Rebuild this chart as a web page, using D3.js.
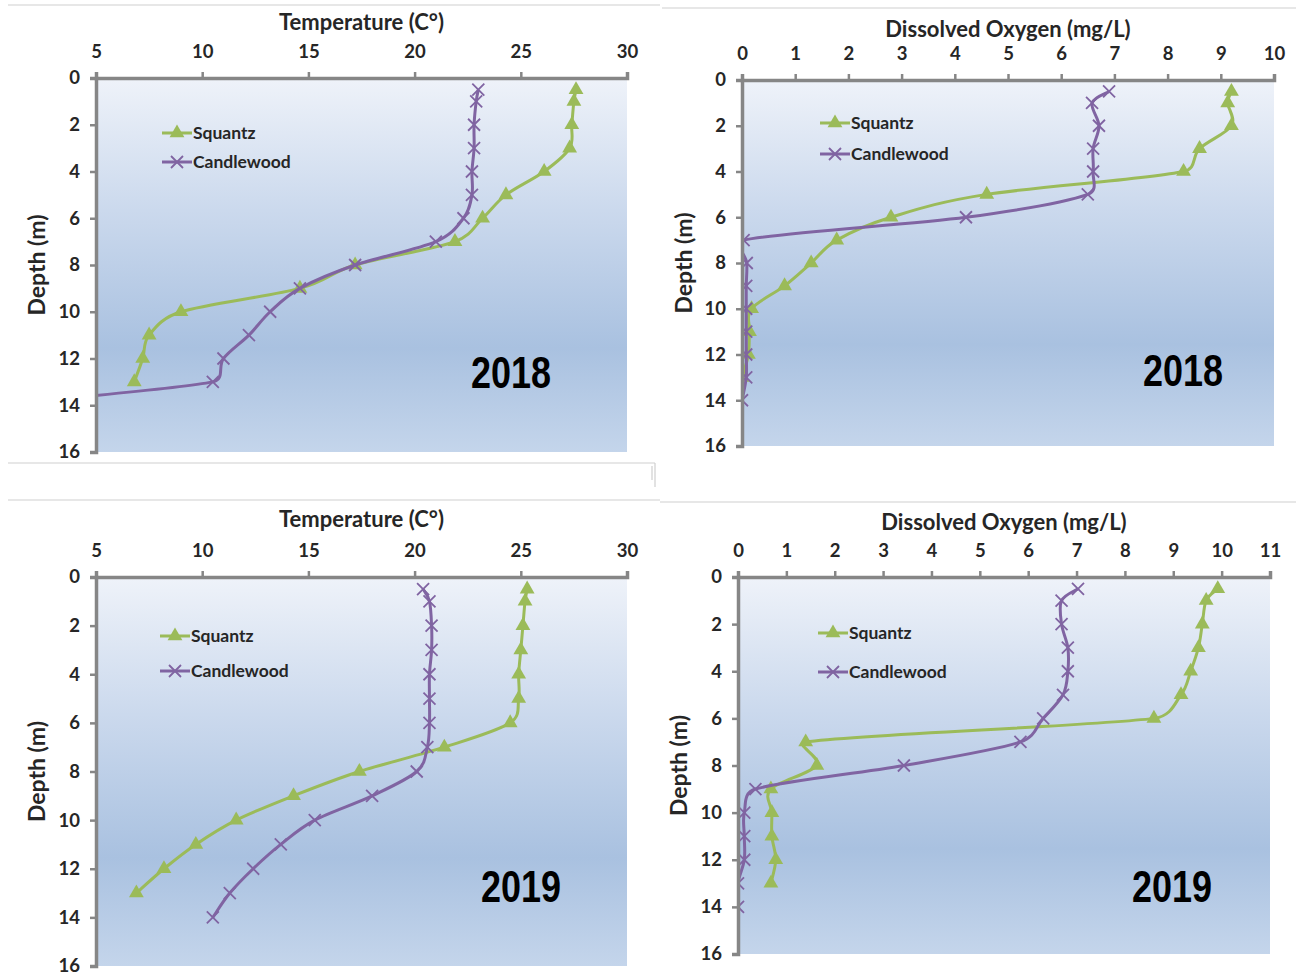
<!DOCTYPE html>
<html>
<head>
<meta charset="utf-8">
<script src="https://cdn.jsdelivr.net/npm/d3@7"></script>
<style>
  body { margin: 0; background: #fff; }
  svg { display: block; }
  .tick text { font-family: Lato, "Open Sans", sans-serif; font-weight: 700; font-size: 18.5px; fill: #262626; }
  .title { font-family: Lato, "Open Sans", sans-serif; font-weight: 700; font-size: 22px; fill: #262626; }
  .depth { font-family: Lato, "Open Sans", sans-serif; font-weight: 700; font-size: 23px; fill: #262626; }
  .legend text { font-family: Lato, "Open Sans", sans-serif; font-weight: 700; font-size: 17.5px; fill: #262626; }
  .year { font-family: "Liberation Sans", Arial, sans-serif; font-weight: 700; font-size: 44px; fill: #000; }
</style>
</head>
<body>
<script>
var w = 1296;
var h = 977;

// depth readings (m)
var depths = [0.5, 1, 2, 3, 4, 5, 6, 7, 8, 9, 10, 11, 12, 13, 14];
var seriesNames = ["Squantz", "Candlewood"];
var tempTicks = [5, 10, 15, 20, 25, 30];
var depthTicks = [0, 2, 4, 6, 8, 10, 12, 14, 16];
var doTicks2018 = [0, 1, 2, 3, 4, 5, 6, 7, 8, 9, 10];
var doTicks2019 = [0, 1, 2, 3, 4, 5, 6, 7, 8, 9, 10, 11];

// 2018 temperature (C)
var temp2018Squantz = [27.6, 27.5, 27.4, 27.3, 26.1, 24.3, 23.2, 21.9, 17.2, 14.6, 9.0, 7.5, 7.2, 6.8];
var temp2018Candlewood = [23.0, 22.9, 22.8, 22.8, 22.7, 22.7, 22.3, 21.0, 17.2, 14.6, 13.2, 12.2, 11.0, 10.5, 0];

// 2018 dissolved oxygen (mg/L)
var do2018Squantz = [9.2, 9.13, 9.2, 8.6, 8.3, 4.6, 2.8, 1.78, 1.3, 0.8, 0.18, 0.14, 0.12, 0.0];
var do2018Candlewood = [6.9, 6.58, 6.71, 6.6, 6.6, 6.5, 4.21, 0.03, 0.09, 0.08, 0.08, 0.08, 0.08, 0.08, 0.0];

// 2019 temperature (C)
var temp2019Squantz = [25.3, 25.2, 25.1, 25.0, 24.9, 24.9, 24.5, 21.4, 17.4, 14.3, 11.6, 9.7, 8.2, 6.9];
var temp2019Candlewood = [20.4, 20.7, 20.8, 20.8, 20.7, 20.7, 20.7, 20.6, 20.1, 18.0, 15.3, 13.7, 12.4, 11.3, 10.5];

// 2019 dissolved oxygen (mg/L)
var do2019Squantz = [9.92, 9.68, 9.6, 9.52, 9.36, 9.16, 8.6, 1.4, 1.63, 0.68, 0.7, 0.7, 0.78, 0.68];
var do2019Candlewood = [7.03, 6.69, 6.69, 6.82, 6.82, 6.72, 6.31, 5.84, 3.43, 0.36, 0.13, 0.13, 0.13, 0.0, 0.0];

var colors = ["#9bbb59", "#8064a2"];

var panels = [
    { id: "p1", title: "Temperature (C\u00b0)", year: "2018", domain: [5, 30], ticks: tempTicks,
      left: 96, right: 627, top: 78, bottom: 452, titleY: 30, yearX: 511, yearY: 388,
      legX: 162, legY: 133, legGap: 29, depthX: 37, data: [temp2018Squantz, temp2018Candlewood] },
    { id: "p2", title: "Dissolved Oxygen (mg/L)", year: "2018", domain: [0, 10], ticks: doTicks2018,
      left: 742, right: 1274, top: 80, bottom: 446, titleY: 37, yearX: 1183, yearY: 386,
      legX: 820, legY: 123, legGap: 31, depthX: 684, data: [do2018Squantz, do2018Candlewood] },
    { id: "p3", title: "Temperature (C\u00b0)", year: "2019", domain: [5, 30], ticks: tempTicks,
      left: 96, right: 627, top: 577, bottom: 966, titleY: 527, yearX: 521, yearY: 902,
      legX: 160, legY: 636, legGap: 35, depthX: 37, data: [temp2019Squantz, temp2019Candlewood] },
    { id: "p4", title: "Dissolved Oxygen (mg/L)", year: "2019", domain: [0, 11], ticks: doTicks2019,
      left: 738, right: 1270, top: 577, bottom: 954, titleY: 530, yearX: 1172, yearY: 902,
      legX: 818, legY: 633, legGap: 39, depthX: 679, data: [do2019Squantz, do2019Candlewood] }
];

var svg = d3.select("body")
            .append("svg")
            .attr("width", w)
            .attr("height", h);

var defs = svg.append("defs");

// plot area gradient, light at the top and deeper blue lower down
var grad = defs.append("linearGradient")
               .attr("id", "bg")
               .attr("x1", 0).attr("y1", 0)
               .attr("x2", 0).attr("y2", 1);
grad.append("stop").attr("offset", "0%").attr("stop-color", "#eef2f9");
grad.append("stop").attr("offset", "35%").attr("stop-color", "#cbd9ed");
grad.append("stop").attr("offset", "72%").attr("stop-color", "#a9c1e0");
grad.append("stop").attr("offset", "100%").attr("stop-color", "#c4d5eb");

// thin chart frame lines left over from the pasted charts
var frames = [
    [8, 5, 660, 5], [8, 463, 655, 463], [655, 463, 655, 487],
    [662, 8, 1296, 8], [652, 466, 652, 480],
    [8, 500, 660, 500], [660, 502, 1296, 502]
];
svg.selectAll("line.frame")
   .data(frames)
   .enter()
   .append("line")
   .attr("class", "frame")
   .attr("x1", function(d) { return d[0]; })
   .attr("y1", function(d) { return d[1]; })
   .attr("x2", function(d) { return d[2]; })
   .attr("y2", function(d) { return d[3]; })
   .attr("stroke", "#cfcfcf")
   .attr("stroke-width", 1.2);

function dist(a, b) {
    return Math.sqrt((b[0] - a[0]) * (b[0] - a[0]) + (b[1] - a[1]) * (b[1] - a[1]));
}

// control point like a spreadsheet "smoothed line": 1/6 of the neighbour chord,
// but never longer than half of the segment itself (stops loops)
function ctrl(p, a, b, seg, sign) {
    var d = dist(a, b);
    var f = 1 / 6;
    if (d === 0) return p;
    if (d * f > seg / 2) f = seg / (2 * d);
    return [p[0] + sign * f * (b[0] - a[0]), p[1] + sign * f * (b[1] - a[1])];
}

function smoothPath(pts) {
    var path = d3.path();
    path.moveTo(pts[0][0], pts[0][1]);
    for (var i = 0; i < pts.length - 1; i++) {
        var p0 = pts[i - 1] || pts[i];
        var p1 = pts[i];
        var p2 = pts[i + 1];
        var p3 = pts[i + 2] || pts[i + 1];
        var seg = dist(p1, p2);
        var c1 = ctrl(p1, p0, p2, seg, 1);
        var c2 = ctrl(p2, p1, p3, seg, -1);
        path.bezierCurveTo(c1[0], c1[1], c2[0], c2[1], p2[0], p2[1]);
    }
    return path.toString();
}

function triangle(g, x, y, color) {
    g.append("path")
     .attr("d", d3.symbol().type(d3.symbolTriangle).size(95)())
     .attr("transform", "translate(" + x + "," + y + ")")
     .attr("fill", color);
}

function cross(g, x, y, color) {
    var s = 6;
    g.append("path")
     .attr("d", "M" + (x - s) + "," + (y - s) + "L" + (x + s) + "," + (y + s) +
                "M" + (x - s) + "," + (y + s) + "L" + (x + s) + "," + (y - s))
     .attr("stroke", color)
     .attr("stroke-width", 1.8)
     .attr("fill", "none");
}

function drawPanel(p) {
    var xscale = d3.scaleLinear()
                   .domain(p.domain)
                   .range([p.left, p.right]);

    var yscale = d3.scaleLinear()
                   .domain([0, 16])
                   .range([p.top, p.bottom]);

    var g = svg.append("g").attr("id", p.id);

    defs.append("clipPath")
        .attr("id", "clip-" + p.id)
        .append("rect")
        .attr("x", p.left)
        .attr("y", p.top)
        .attr("width", p.right - p.left)
        .attr("height", p.bottom - p.top);

    g.append("rect")
     .attr("x", p.left + 1)
     .attr("y", p.top + 2)
     .attr("width", p.right - p.left - 1)
     .attr("height", p.bottom - p.top - 2)
     .attr("fill", "url(#bg)");

    // lines and markers
    var plot = g.append("g").attr("clip-path", "url(#clip-" + p.id + ")");

    p.data.forEach(function(vals, si) {
        var pts = vals.map(function(v, i) { return [xscale(v), yscale(depths[i])]; });

        plot.append("path")
            .attr("d", smoothPath(pts))
            .attr("fill", "none")
            .attr("stroke", colors[si])
            .attr("stroke-width", 3);

        pts.forEach(function(pt) {
            if (si === 0) triangle(plot, pt[0], pt[1], colors[si]);
            else cross(plot, pt[0], pt[1], colors[si]);
        });
    });

    // axes
    var xAxis = d3.axisTop(xscale)
                  .tickValues(p.ticks)
                  .tickSize(6)
                  .tickPadding(14)
                  .tickFormat(d3.format("d"));

    var yAxis = d3.axisLeft(yscale)
                  .tickValues(depthTicks)
                  .tickSize(6)
                  .tickPadding(10)
                  .tickFormat(d3.format("d"));

    var gx = g.append("g")
              .attr("transform", "translate(0," + p.top + ")")
              .call(xAxis);

    var gy = g.append("g")
              .attr("transform", "translate(" + p.left + ",0)")
              .call(yAxis);

    [gx, gy].forEach(function(a) {
        a.select(".domain").attr("stroke", "#868686").attr("stroke-width", 3.5);
        a.selectAll(".tick line").attr("stroke", "#868686").attr("stroke-width", 2.5);
        a.attr("font-family", null).attr("font-size", null);
    });

    // titles
    g.append("text")
     .attr("class", "title")
     .attr("x", (p.left + p.right) / 2)
     .attr("y", p.titleY)
     .attr("text-anchor", "middle")
     .text(p.title);

    g.append("text")
     .attr("class", "depth")
     .attr("transform", "translate(" + p.depthX + "," + ((p.top + p.bottom) / 2) + ") rotate(-90)")
     .attr("dy", "0.35em")
     .attr("text-anchor", "middle")
     .text("Depth (m)");

    // year label is a condensed bold face, squeezed to the reference width
    g.append("text")
     .attr("class", "year")
     .attr("x", p.yearX - 40)
     .attr("y", p.yearY)
     .attr("textLength", 80)
     .attr("lengthAdjust", "spacingAndGlyphs")
     .text(p.year);

    // legend
    var leg = g.append("g").attr("class", "legend");
    seriesNames.forEach(function(name, si) {
        var ly = p.legY + si * p.legGap;
        leg.append("line")
           .attr("x1", p.legX).attr("x2", p.legX + 30)
           .attr("y1", ly).attr("y2", ly)
           .attr("stroke", colors[si])
           .attr("stroke-width", 3);
        if (si === 0) triangle(leg, p.legX + 15, ly, colors[si]);
        else cross(leg, p.legX + 15, ly, colors[si]);
        leg.append("text")
           .attr("x", p.legX + 31)
           .attr("y", ly)
           .attr("dy", "0.35em")
           .text(name);
    });
}

panels.forEach(drawPanel);
</script>
</body>
</html>
